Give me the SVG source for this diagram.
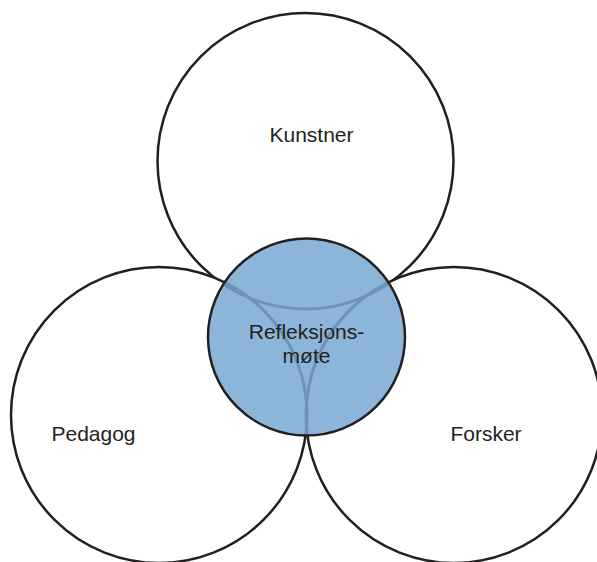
<svg xmlns="http://www.w3.org/2000/svg" width="597" height="562" viewBox="0 0 597 562">
<style>
.big{fill:#ffffff;stroke:#231f20;stroke-width:2.5}
.inner{fill:none;stroke:#6f93b8;stroke-width:3}
.lbl{font-family:"Liberation Sans",Arial,sans-serif;font-size:21px;fill:#231f20;text-anchor:middle}
</style>
<defs>
<clipPath id="cc"><circle cx="306.5" cy="337" r="98.5"/></clipPath>
</defs>
<g id="kunstner">
<circle class="big" cx="305.5" cy="161" r="148"/>
<text class="lbl" x="311.5" y="142">Kunstner</text>
</g>
<g id="pedagog">
<circle class="big" cx="159" cy="415" r="148"/>
<text class="lbl" x="93.5" y="441">Pedagog</text>
</g>
<g id="forsker">
<circle class="big" cx="454" cy="415" r="148"/>
<text class="lbl" x="486" y="441">Forsker</text>
</g>
<g id="refleksjonsmote">
<circle cx="306.5" cy="337" r="98.5" fill="#8cb5da"/>
<g clip-path="url(#cc)">
<circle class="inner" cx="305.5" cy="161" r="148"/>
<circle class="inner" cx="159" cy="415" r="148"/>
<circle class="inner" cx="454" cy="415" r="148"/>
</g>
<circle cx="306.5" cy="337" r="98.5" fill="none" stroke="#231f20" stroke-width="2.5"/>
<text class="lbl" x="306.5" y="339">Refleksjons-</text>
<text class="lbl" x="306.5" y="363">møte</text>
</g>
</svg>
